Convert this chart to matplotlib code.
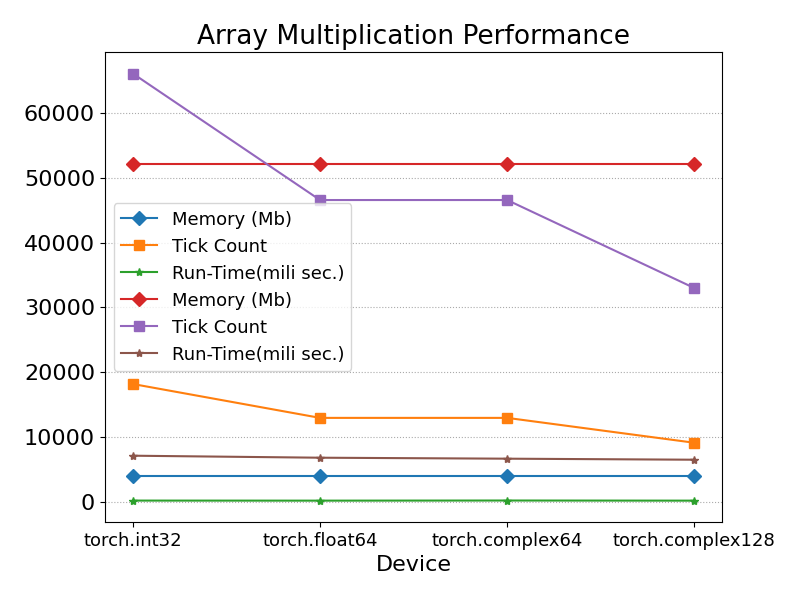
import numpy as np
import matplotlib.pyplot as plt

devices = ["torch.int32", "torch.float64", "torch.complex64", "torch.complex128"]

# first run
memory_a = [4000, 4000, 4000, 4000]
ticks_a = [18150, 12920, 12920, 9080]
runtime_a = [150, 140, 160, 140]

# second run
memory_b = [52190, 52190, 52190, 52190]
ticks_b = [66090, 46560, 46560, 32970]
runtime_b = [7080, 6770, 6620, 6460]

x = np.arange(len(devices))

plt.figure(figsize=(8, 6), dpi=100)
plt.subplots_adjust(left=0.131, right=0.903, top=0.913, bottom=0.13)

plt.plot(x, memory_a, marker="D", markersize=7, label="Memory (Mb)")
plt.plot(x, ticks_a, marker="s", markersize=7, label="Tick Count")
plt.plot(x, runtime_a, marker="*", markersize=6, label="Run-Time(mili sec.)")
plt.plot(x, memory_b, marker="D", markersize=7, label="Memory (Mb)")
plt.plot(x, ticks_b, marker="s", markersize=7, label="Tick Count")
plt.plot(x, runtime_b, marker="*", markersize=6, label="Run-Time(mili sec.)")

plt.xticks(x, devices, fontsize=13)
plt.yticks(fontsize=16)
plt.xlabel("Device", fontsize=16)
plt.title("Array Multiplication Performance", fontsize=19)
plt.grid(axis="y", linestyle=":", color="#aaaaaa")
plt.legend(loc="center left", fontsize=13)

plt.savefig("out.png")
